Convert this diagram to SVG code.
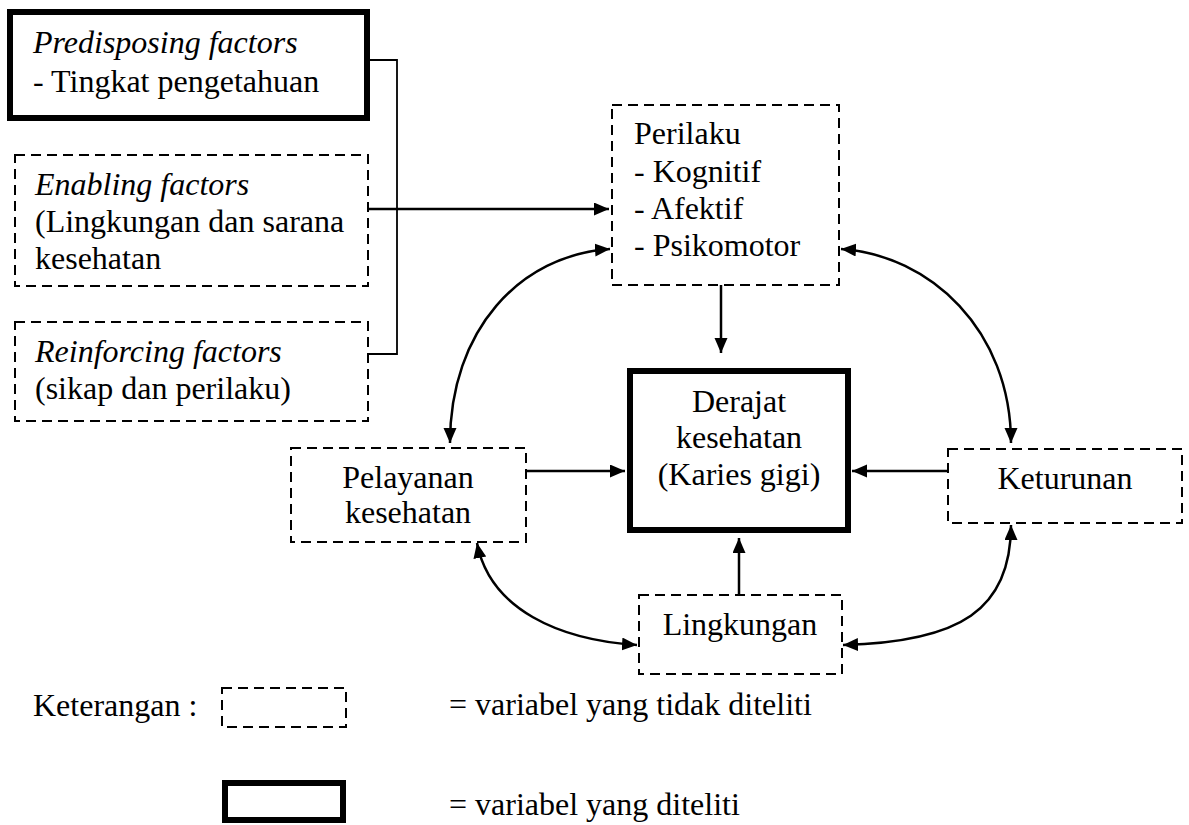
<svg xmlns="http://www.w3.org/2000/svg" width="1189" height="825" viewBox="0 0 1189 825">
<style>
text{font-family:"Liberation Serif","Times New Roman",serif;font-size:32px;fill:#000}
.it{font-style:italic}
.mid{text-anchor:middle}
.dash{fill:#fff;stroke:#000;stroke-width:2;stroke-dasharray:10 6}
.thick{fill:#fff;stroke:#000;stroke-width:6}
.arr{fill:none;stroke:#000;stroke-width:2.5}
.dbl{fill:none;stroke:#000;stroke-width:2.5;marker-start:url(#ah);marker-end:url(#ah)}
.one{marker-end:url(#ah)}
.brk{fill:none;stroke:#000;stroke-width:1.8}
</style>
<defs>
<marker id="ah" markerUnits="userSpaceOnUse" markerWidth="16" markerHeight="14" refX="15" refY="6.5" orient="auto-start-reverse" viewBox="0 0 16 14">
<path d="M0,0 L15,6.5 L0,13 z" fill="#000"/>
</marker>
</defs>
<rect width="1189" height="825" fill="#fff"/>
<g id="connectors">
<polyline class="brk" points="370,60 397,60 397,354 368,354"/>
<path class="arr one" d="M368,209 H609"/>
<path class="arr one" d="M721,285 V353"/>
<path class="arr one" d="M526,471 H625"/>
<path class="arr one" d="M948,471 H852"/>
<path class="arr one" d="M739,595 V538"/>
<path class="dbl" d="M450,443 C450,330 520,255 610,249"/>
<path class="dbl" d="M841,249 C930,255 1011,330 1011,443"/>
<path class="dbl" d="M477,543 C490,610 560,640 637,645"/>
<path class="dbl" d="M1011,525 C1011,610 960,642 843,645"/>
</g>
<g id="predisposing">
<rect class="thick" x="10" y="12" width="357" height="106"/>
<text class="it" x="33" y="53">Predisposing factors</text>
<text x="33" y="92">- Tingkat pengetahuan</text>
</g>
<g id="enabling">
<rect class="dash" x="15" y="155" width="353" height="131"/>
<text class="it" x="35" y="195">Enabling factors</text>
<text x="35" y="232">(Lingkungan dan sarana</text>
<text x="35" y="269">kesehatan</text>
</g>
<g id="reinforcing">
<rect class="dash" x="15" y="322" width="353" height="99"/>
<text class="it" x="35" y="362">Reinforcing factors</text>
<text x="35" y="399">(sikap dan perilaku)</text>
</g>
<g id="perilaku">
<rect class="dash" x="612" y="105" width="227" height="180"/>
<text x="634" y="144">Perilaku</text>
<text x="634" y="182">- Kognitif</text>
<text x="634" y="219">- Afektif</text>
<text x="634" y="256">- Psikomotor</text>
</g>
<g id="derajat">
<rect class="thick" x="630" y="371" width="218" height="159"/>
<text class="mid" x="739" y="412">Derajat</text>
<text class="mid" x="739" y="448">kesehatan</text>
<text class="mid" x="739" y="485">(Karies gigi)</text>
</g>
<g id="pelayanan">
<rect class="dash" x="291" y="448" width="235" height="94"/>
<text class="mid" x="408" y="488">Pelayanan</text>
<text class="mid" x="408" y="523">kesehatan</text>
</g>
<g id="keturunan">
<rect class="dash" x="948" y="449" width="234" height="74"/>
<text class="mid" x="1065" y="489">Keturunan</text>
</g>
<g id="lingkungan">
<rect class="dash" x="639" y="595" width="203" height="79"/>
<text class="mid" x="740" y="635">Lingkungan</text>
</g>
<g id="legend">
<text x="33" y="716">Keterangan :</text>
<rect class="dash" x="222" y="688" width="124" height="39"/>
<text x="449" y="715">= variabel yang tidak diteliti</text>
<rect class="thick" x="225" y="783" width="118" height="37"/>
<text x="449" y="815">= variabel yang diteliti</text>
</g>
</svg>
